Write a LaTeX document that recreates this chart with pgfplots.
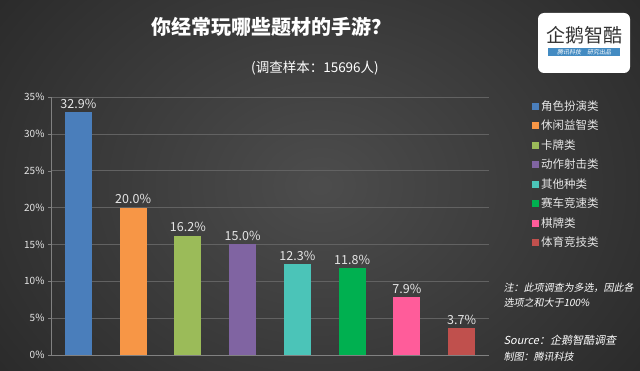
\documentclass[border=0pt]{standalone}
\usepackage{pgfplots}
\pgfplotsset{compat=1.18}
\usepackage{fontspec}
\setmainfont{Noto Sans CJK SC}
\newfontfamily\itfont{Noto Sans CJK SC}[FakeSlant=0.2]
\definecolor{c1}{HTML}{4A7EBB}
\definecolor{c2}{HTML}{F79646}
\definecolor{c3}{HTML}{9BBB59}
\definecolor{c4}{HTML}{8064A2}
\definecolor{c5}{HTML}{4BC4B8}
\definecolor{c6}{HTML}{00B050}
\definecolor{c7}{HTML}{FF5C9A}
\definecolor{c8}{HTML}{C0504D}
\definecolor{txt}{HTML}{E6E6E6}
\definecolor{gridc}{HTML}{626262}
\begin{document}
\begin{tikzpicture}
\useasboundingbox (0pt,0pt) rectangle (640pt,370pt);
\begin{scope}
\clip (0pt,0pt) rectangle (640pt,370pt);
\shade[inner color=black!70, outer color=black!84] (-100pt,-150pt) rectangle (740pt,520pt);
\end{scope}
% title
\node[text=white, font=\fontsize{20}{23}\selectfont\bfseries] at (271pt,343pt) {你经常玩哪些题材的手游？};
\node[text=white, font=\fontsize{13.5}{15}\selectfont] at (315pt,302pt) {(调查样本：15696人)};
% logo
\fill[white, rounded corners=6pt] (538pt,297pt) rectangle (630pt,357pt);
\node[text=black!80, font=\fontsize{19}{21}\selectfont] at (584pt,335pt) {企鹅智酷};
\fill[c1!90!cyan] (548pt,314pt) rectangle (620pt,322pt);
\node[text=white, font=\fontsize{6}{7}\selectfont\itfont] at (584pt,318pt) {腾讯科技\quad 研究出品};
% notes
\node[anchor=west, text=white, font=\fontsize{10}{12}\selectfont\itfont] at (500pt,82pt) {注：此项调查为多选，因此各};
\node[anchor=west, text=white, font=\fontsize{10}{12}\selectfont\itfont] at (500pt,67pt) {选项之和大于100\%};
\node[anchor=west, text=white, font=\fontsize{11}{13}\selectfont\itfont] at (500pt,30pt) {Source：企鹅智酷调查};
\node[anchor=west, text=white, font=\fontsize{10}{12}\selectfont\itfont] at (500pt,13pt) {制图：腾讯科技};
\begin{axis}[
  at={(51pt,15pt)}, anchor=south west,
  scale only axis, width=438pt, height=258pt,
  xmin=-0.5, xmax=7.5, ymin=0, ymax=35,
  ytick={0,5,...,35}, xtick=\empty,
  yticklabel={\pgfmathprintnumber{\tick}\%},
  /pgf/number format/assume math mode=true,
  ticklabel style={text=txt, font=\fontsize{10}{12}\selectfont},
  ymajorgrids, grid style={color=gridc, line width=0.6pt},
  axis x line*=bottom, axis y line*=left,
  axis line style={color=gridc!80!white, line width=0.6pt},
  tick align=outside, major tick length=3pt, tick style={color=gridc!80!white},
  ybar, bar width=27pt, bar shift=0pt,
  nodes near coords={\pgfmathprintnumber[fixed,precision=1,fixed zerofill]{\pgfplotspointmeta}\%},
  nodes near coords style={text=txt, font=\fontsize{12.5}{14}\selectfont, /pgf/number format/assume math mode=true},
  every axis plot post/.append style={draw=none},
  legend image code/.code={\fill[#1] (0pt,-3.5pt) rectangle (7pt,3.5pt);},
  legend style={at={(1.098,0.995)}, anchor=north west, draw=none, fill=none, text=txt,
    font=\fontsize{11.5}{13}\selectfont, row sep=4.3pt, inner sep=0pt},
  legend cell align=left,
]
\addplot[fill=c1] coordinates {(0,32.9)}; \addlegendentry{角色扮演类}
\addplot[fill=c2] coordinates {(1,20.0)}; \addlegendentry{休闲益智类}
\addplot[fill=c3] coordinates {(2,16.2)}; \addlegendentry{卡牌类}
\addplot[fill=c4] coordinates {(3,15.0)}; \addlegendentry{动作射击类}
\addplot[fill=c5] coordinates {(4,12.3)}; \addlegendentry{其他种类}
\addplot[fill=c6] coordinates {(5,11.8)}; \addlegendentry{赛车竞速类}
\addplot[fill=c7] coordinates {(6,7.9)}; \addlegendentry{棋牌类}
\addplot[fill=c8] coordinates {(7,3.7)}; \addlegendentry{体育竞技类}
\end{axis}
\end{tikzpicture}
\end{document}
